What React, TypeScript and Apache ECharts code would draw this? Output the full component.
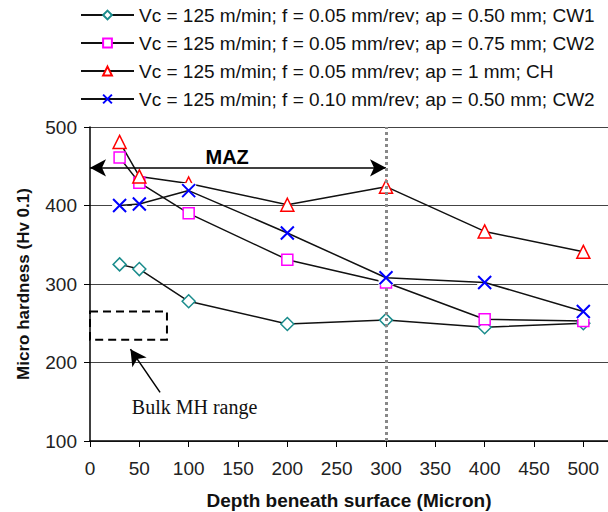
import React, { useEffect, useRef } from "react";
import * as echarts from "echarts";

const depths = [30, 50, 100, 200, 300, 400, 500];
const cw1 = [325, 319, 278, 249, 254, 245, 250];
const cw2a = [461, 429, 390, 331, 302, 255, 253];
const ch = [481, 437, 428, 401, 424, 367, 341];
const cw2b = [400, 402, 419, 365, 308, 302, 265];

const names = [
  "Vc = 125 m/min; f = 0.05 mm/rev; ap = 0.50 mm; CW1",
  "Vc = 125 m/min; f = 0.05 mm/rev; ap = 0.75 mm; CW2",
  "Vc = 125 m/min; f = 0.05 mm/rev; ap = 1 mm; CH",
  "Vc = 125 m/min; f = 0.10 mm/rev; ap = 0.50 mm; CW2",
];
const colors = ["#1a8c8c", "#ff00ff", "#ff0000", "#0000ff"];
const symbols = ["diamond", "rect", "triangle", "path://M0,0L10,10M10,0L0,10"];
const sizes = [13, 11, 13, 13];
const seriesValues = [cw1, cw2a, ch, cw2b];

// annotations
const mazY = 448;
const mazRange = [0, 300];
const bulkRange = { x: [0, 78], y: [229, 265] };
const bulkArrow = [[71, 162], [41, 217]];
const bulkLabelPos = [106, 143];
const mazLabelPos = [139, 462];
const zoneBoundary = 300;

const FONT = "Liberation Sans, Arial, sans-serif";

export default function App() {
  const ref = useRef<HTMLDivElement>(null);
  useEffect(() => {
    if (!ref.current) return;
    const chart = echarts.init(ref.current, null, { renderer: "svg" });
    const series: any[] = seriesValues.map((vals, i) => ({
      name: names[i],
      type: "line",
      data: depths.map((d, j) => [d, vals[j]]),
      symbol: symbols[i],
      symbolSize: sizes[i],
      showAllSymbol: true,
      lineStyle: { color: "#111", width: 1.5 },
      itemStyle: { color: "#fff", borderColor: colors[i], borderWidth: i === 3 ? 2 : 1.5 },
      z: i === 3 ? 12 : 2,
    }));
    // white backing squares behind the X markers (as in the original figure)
    series.push({
      name: "_xmask",
      type: "scatter",
      data: depths.map((d, j) => [d, cw2b[j]]),
      symbol: "rect",
      symbolSize: 15,
      itemStyle: { color: "#ffffff", opacity: 1 },
      silent: true,
      z: 10,
    });
    series[0].markLine = {
      silent: true,
      symbol: ["none", "none"],
      data: [
        [
          { coord: [mazRange[0], mazY], symbol: "arrow" },
          { coord: [mazRange[1], mazY], symbol: "arrow" },
        ],
        [
          { coord: bulkArrow[0], symbol: "none" },
          { coord: bulkArrow[1], symbol: "arrow" },
        ],
        {
          xAxis: zoneBoundary,
          lineStyle: { color: "#888", type: [3, 3], width: 3 },
        },
      ],
      symbolSize: [13, 16],
      lineStyle: { color: "#000", type: "solid", width: 1.5 },
      label: { show: false },
    };
    series[0].markArea = {
      silent: true,
      data: [
        [
          { coord: [bulkRange.x[0], bulkRange.y[1]] },
          { coord: [bulkRange.x[1], bulkRange.y[0]] },
        ],
      ],
      itemStyle: {
        color: "rgba(0,0,0,0)",
        borderColor: "#000",
        borderWidth: 2,
        borderType: [8, 5],
      },
    };
    series[0].markPoint = {
      silent: true,
      symbol: "rect",
      symbolSize: 1,
      itemStyle: { color: "rgba(0,0,0,0)" },
      data: [
        {
          coord: bulkLabelPos,
          label: {
            show: true,
            position: "inside",
            formatter: "Bulk MH range",
            fontFamily: "Liberation Serif, Times New Roman, serif",
            fontSize: 20,
            color: "#111",
          },
        },
        {
          coord: mazLabelPos,
          label: {
            show: true,
            position: "inside",
            formatter: "MAZ",
            fontFamily: FONT,
            fontWeight: "bold",
            fontSize: 20,
            color: "#000",
          },
        },
      ],
    };
    chart.setOption({
      animation: false,
      textStyle: { fontFamily: FONT },
      legend: {
        orient: "vertical",
        left: 75,
        top: 0,
        itemWidth: 53,
        itemHeight: 11,
        itemGap: 8,
        data: names,
        textStyle: { fontSize: 19, color: "#111", fontFamily: FONT, lineHeight: 20 },
      },
      grid: {
        left: 90,
        right: 0,
        top: 127,
        bottom: 71,
        containLabel: false,
        outerBoundsMode: "none",
      },
      xAxis: {
        type: "value",
        min: 0,
        max: 525,
        interval: 50,
        name: "Depth beneath surface (Micron)",
        nameLocation: "middle",
        nameGap: 50,
        nameTextStyle: { fontSize: 19, fontWeight: "bold", color: "#111", fontFamily: FONT },
        axisLine: { lineStyle: { color: "#000", width: 1.5 } },
        axisTick: { length: 6, lineStyle: { color: "#000" } },
        axisLabel: {
          fontSize: 19,
          color: "#222",
          margin: 18,
          fontFamily: FONT,
          formatter: (v: number) => (v % 50 === 0 ? String(v) : ""),
        },
        splitLine: { show: false },
      },
      yAxis: {
        type: "value",
        min: 100,
        max: 500,
        interval: 100,
        name: "Micro hardness (Hv 0.1)",
        nameLocation: "middle",
        nameGap: 58,
        nameTextStyle: { fontSize: 17, fontWeight: "bold", color: "#111", fontFamily: FONT },
        axisLine: { show: true, lineStyle: { color: "#000", width: 1.5 } },
        axisTick: { show: true, length: 6, lineStyle: { color: "#000" } },
        axisLabel: { fontSize: 19, color: "#222", margin: 13, fontFamily: FONT },
        splitLine: { show: true, lineStyle: { color: "#444", width: 1 } },
      },
      series,
    });
    return () => chart.dispose();
  }, []);
  return <div ref={ref} style={{ width: 608, height: 512, position: "absolute", left: 0, top: 0 }} />;
}
